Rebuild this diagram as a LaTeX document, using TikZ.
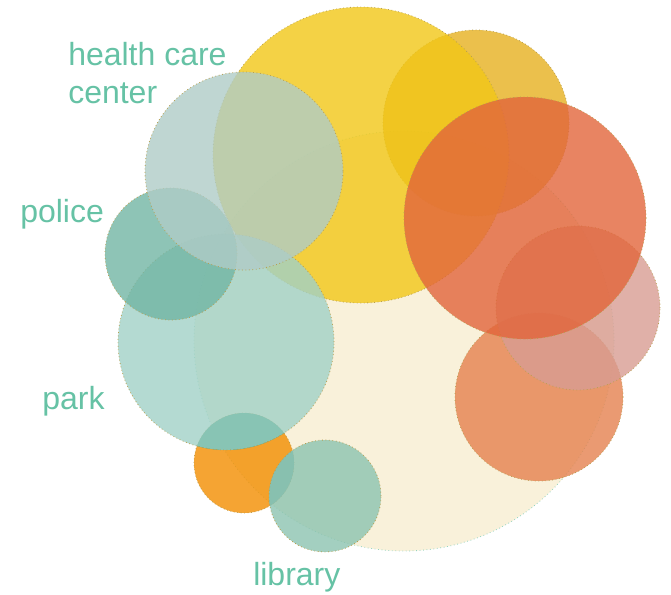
\documentclass[tikz,border=0pt]{standalone}
\usepackage{fontspec}
\setmainfont{Liberation Sans}
\definecolor{labelc}{HTML}{66C2A5}
\definecolor{creamc}{HTML}{F7EDD1}
\definecolor{yellowc}{HTML}{F1C717}
\definecolor{goldc}{HTML}{E6B01F}
\definecolor{redc}{HTML}{E2653B}
\definecolor{pinkc}{HTML}{D89C92}
\definecolor{salmonc}{HTML}{E5814F}
\definecolor{healthc}{HTML}{AFCCC7}
\definecolor{policec}{HTML}{72B5A4}
\definecolor{parkc}{HTML}{A1D1C7}
\definecolor{orangec}{HTML}{F38D00}
\definecolor{libraryc}{HTML}{8CC3B0}
\definecolor{mixc}{RGB}{36,144,104}
\definecolor{mixlibc}{RGB}{120,180,175}
\definecolor{rimc}{HTML}{B8A050}

\begin{document}
\begin{tikzpicture}[x=0.75pt, y=-0.75pt,
   bub/.style={circle, draw=rimc, dotted, line width=0.6pt, fill opacity=0.8, inner sep=0, minimum size=#1*1.5pt},
   lab/.style={text=labelc, font=\fontsize{24}{28.5}\selectfont, inner sep=0}]
      \useasboundingbox (0,0) rectangle (671,594);

      \node[bub=210, fill=creamc, draw=labelc!70, name=cream] at (404,341) {};
      \node[bub=93, fill=goldc, name=gold] at (476,123) {};
      \node[bub=148, fill=yellowc, name=yellow] at (361,155) {};
      \node[bub=84, fill=salmonc, name=salmon] at (539,397) {};
      \node[bub=82, fill=pinkc, name=pink] at (578,308) {};
      \node[bub=121, fill=redc, name=red] at (525,218) {};
      \node[bub=50, fill=orangec, name=orange] at (244,463) {};
      % overlaps with the orange one
      \begin{scope}
         \clip (orange.center) circle[radius=37.5pt];
         \fill[mixc] (226,342) circle[radius=81pt];
         \fill[mixlibc] (325,496) circle[radius=42pt];
      \end{scope}
      \node[bub=108, fill=parkc, name=park] at (226,342) {};
      \node[bub=66, fill=policec, name=police] at (171,254) {};
      \node[bub=99, fill=healthc, name=health] at (244,171) {};
      \node[bub=56, fill=libraryc, name=library] at (325,496) {};

      \node[lab, anchor=north west, align=left, name=healthlab] at (68,42) {health care\\center};
      \node[lab, anchor=base west, name=policelab] at (20,222) {police};
      \node[lab, anchor=base west, name=parklab] at (42,409) {park};
      \node[lab, anchor=base west, name=librarylab] at (253,585) {library};
   \end{tikzpicture}
\end{document}
